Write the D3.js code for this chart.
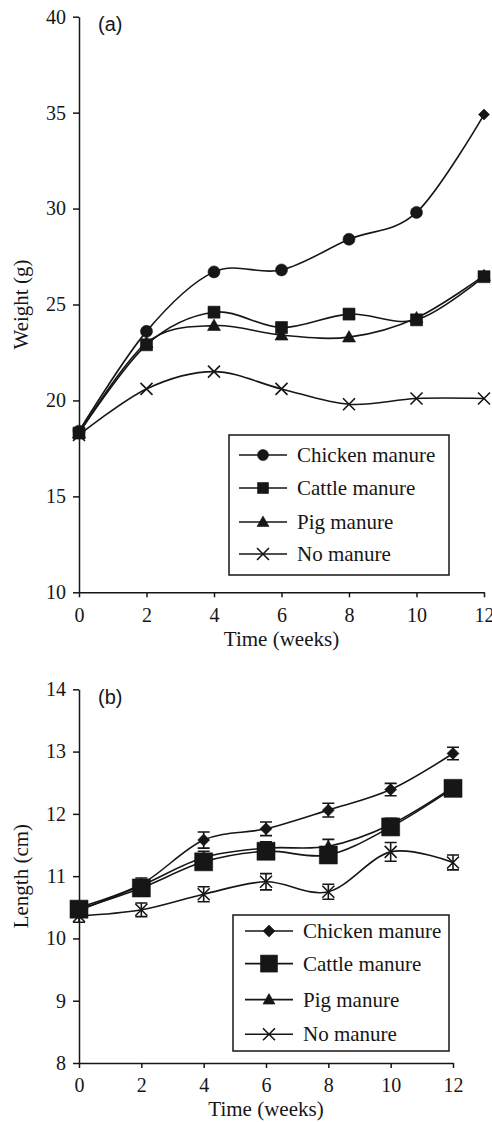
<!DOCTYPE html>
<html>
<head>
<meta charset="utf-8">
<script src="https://cdn.jsdelivr.net/npm/d3@7"></script>
<style>
	html, body { margin: 0; padding: 0; background: #fff; }
	svg { display: block; }
</style>
</head>
<body>
<svg id="chart" width="492" height="1122"></svg>
<script>
'use strict';

var weeks = [0, 2, 4, 6, 8, 10, 12];
var seriesNames = ['Chicken manure', 'Cattle manure', 'Pig manure', 'No manure'];

// (a) weight, g
var weightTicks = [10, 15, 20, 25, 30, 35, 40];
var weightChicken = [18.4, 23.6, 26.7, 26.8, 28.4, 29.8, 34.9];
var weightCattle = [18.3, 22.9, 24.6, 23.8, 24.5, 24.2, 26.45];
var weightPig = [18.3, 23.0, 23.9, 23.4, 23.3, 24.3, 26.5];
var weightNone = [18.2, 20.6, 21.5, 20.6, 19.8, 20.1, 20.1];

// (b) length, cm
var lengthTicks = [8, 9, 10, 11, 12, 13, 14];
var lengthChicken = [10.5, 10.87, 11.58, 11.76, 12.06, 12.39, 12.97];
var lengthCattle = [10.47, 10.81, 11.23, 11.4, 11.34, 11.79, 12.41];
var lengthPig = [10.45, 10.85, 11.3, 11.45, 11.48, 11.83, 12.43];
var lengthNone = [10.36, 10.46, 10.71, 10.91, 10.75, 11.39, 11.22];
var lengthChickenErr = [0.08, 0.1, 0.13, 0.11, 0.11, 0.1, 0.1];
var lengthCattleErr = [0.08, 0.08, 0.1, 0.1, 0.1, 0.1, 0.1];
var lengthPigErr = [0.08, 0.08, 0.1, 0.1, 0.11, 0.1, 0.1];
var lengthNoneErr = [0.1, 0.11, 0.12, 0.13, 0.12, 0.15, 0.12];

(function() {

	var ink = '#161616';
	var serif = '"Liberation Serif", "Times New Roman", serif';
	var svg = d3.select('#chart');

	var markerPath = function(shape, s) {
		var h = s / 2;
		switch (shape) {
			case 'circle':
				return 'M' + (-h) + ',0A' + h + ',' + h + ' 0 1,0 ' + h + ',0A' + h + ',' + h + ' 0 1,0 ' + (-h) + ',0Z';
			case 'square':
				return 'M' + (-h) + ',' + (-h) + 'H' + h + 'V' + h + 'H' + (-h) + 'Z';
			case 'triangle':
				return 'M0,' + (-h) + 'L' + h + ',' + (h * 0.75) + 'L' + (-h) + ',' + (h * 0.75) + 'Z';
			case 'diamond':
				return 'M0,' + (-h) + 'L' + h + ',0L0,' + h + 'L' + (-h) + ',0Z';
			case 'cross':
				return 'M' + (-h) + ',' + (-h) + 'L' + h + ',' + h + 'M' + (-h) + ',' + h + 'L' + h + ',' + (-h);
		}
		return '';
	};

	var drawMarker = function(g, shape, size, x, y) {
		g.append('path')
			.attr('transform', 'translate(' + x + ',' + y + ')')
			.attr('d', markerPath(shape, size))
			.attr('fill', shape === 'cross' ? 'none' : ink)
			.attr('stroke', ink)
			.attr('stroke-width', shape === 'cross' ? 1.6 : 0.6);
	};

	var drawPanel = function(p) {
		var g = svg.append('g');
		var x = d3.scaleLinear().domain([0, 12]).range([p.left, p.right]);
		var y = d3.scaleLinear().domain(d3.extent(p.ticks)).range([p.bottom, p.top]);
		var fmt = d3.format('d');

		var yAxis = g.append('g')
			.attr('transform', 'translate(' + p.left + ',0)')
			.call(d3.axisLeft(y).tickValues(p.ticks).tickFormat(fmt)
				.tickSize(6).tickSizeOuter(0).tickPadding(7));
		var xAxis = g.append('g')
			.attr('transform', 'translate(0,' + p.bottom + ')')
			.call(d3.axisBottom(x).tickValues(weeks).tickFormat(fmt)
				.tickSize(5).tickSizeOuter(0).tickPadding(p.xPad));
		[yAxis, xAxis].forEach(function(a) {
			a.attr('font-family', serif).attr('font-size', 20);
			a.selectAll('path, line').attr('stroke', ink).attr('stroke-width', 1.5);
			a.selectAll('text').attr('fill', ink);
		});

		g.append('text')
			.attr('x', 98)
			.attr('y', p.letterY)
			.attr('fill', ink)
			.attr('font-family', '"Liberation Sans", Arial, sans-serif')
			.attr('font-size', 20)
			.text(p.letter);

		g.append('text')
			.attr('x', (p.left + p.right) / 2)
			.attr('y', p.bottom + p.titleGap)
			.attr('text-anchor', 'middle')
			.attr('fill', ink)
			.attr('font-family', serif)
			.attr('font-size', 21)
			.text('Time (weeks)');

		g.append('text')
			.attr('transform', 'translate(28,' + (p.top + p.bottom) / 2 + ') rotate(-90)')
			.attr('text-anchor', 'middle')
			.attr('fill', ink)
			.attr('font-family', serif)
			.attr('font-size', 21)
			.text(p.yTitle);

		var line = d3.line()
			.x(function(d, i) { return x(weeks[i]); })
			.y(function(d) { return y(d); })
			.curve(d3.curveCatmullRom.alpha(0));

		p.values.forEach(function(vals) {
			g.append('path')
				.attr('d', line(vals))
				.attr('fill', 'none')
				.attr('stroke', ink)
				.attr('stroke-width', 1.6);
		});

		if (p.errors) {
			p.errors.forEach(function(errs, k) {
				var vals = p.values[k];
				errs.forEach(function(e, i) {
					var cx = x(weeks[i]);
					var y1 = y(vals[i] + e);
					var y2 = y(vals[i] - e);
					g.append('path')
						.attr('d', 'M' + cx + ',' + y1 + 'V' + y2 +
							'M' + (cx - 6) + ',' + y1 + 'H' + (cx + 6) +
							'M' + (cx - 6) + ',' + y2 + 'H' + (cx + 6))
						.attr('fill', 'none')
						.attr('stroke', ink)
						.attr('stroke-width', 1.6);
				});
			});
		}

		// pig and no manure first, cattle squares end on top
		[2, 3, 0, 1].forEach(function(k) {
			p.values[k].forEach(function(v, i) {
				var shape = p.shapes[k];
				if (p.lastShape && k === 0 && i === weeks.length - 1) {
					shape = p.lastShape;
				}
				drawMarker(g, shape, p.sizes[shape], x(weeks[i]), y(v));
			});
		});

		var lg = g.append('g').attr('transform', 'translate(' + p.legend.x + ',' + p.legend.y + ')');
		lg.append('rect')
			.attr('width', p.legend.w)
			.attr('height', p.legend.h)
			.attr('fill', '#fff')
			.attr('stroke', ink)
			.attr('stroke-width', 1.5);
		seriesNames.forEach(function(name, k) {
			var ry = p.legend.rows[k];
			lg.append('line')
				.attr('x1', p.legend.lineX)
				.attr('x2', p.legend.lineX + 48)
				.attr('y1', ry)
				.attr('y2', ry)
				.attr('stroke', ink)
				.attr('stroke-width', 1.6);
			drawMarker(lg, p.shapes[k], p.legendSizes[p.shapes[k]], p.legend.lineX + 24, ry);
			lg.append('text')
				.attr('x', p.legend.lineX + 58)
				.attr('y', ry + 7)
				.attr('fill', ink)
				.attr('font-family', serif)
				.attr('font-size', 21)
				.text(name);
		});
	};

	drawPanel({
		top: 16.7, bottom: 592.3, left: 79, right: 484,
		ticks: weightTicks, xPad: 10.5, titleGap: 54,
		letter: '(a)', letterY: 31, yTitle: 'Weight (g)',
		values: [weightChicken, weightCattle, weightPig, weightNone],
		errors: null,
		shapes: ['circle', 'square', 'triangle', 'cross'],
		lastShape: 'diamond',
		sizes: { circle: 12, square: 12, triangle: 13, cross: 12, diamond: 11 },
		legendSizes: { circle: 11, square: 11, triangle: 12, cross: 12 },
		legend: { x: 229, y: 435, w: 220, h: 140, lineX: 10, rows: [20, 53, 87, 119] }
	});

	drawPanel({
		top: 689.3, bottom: 1063, left: 79, right: 453,
		ticks: lengthTicks, xPad: 9.5, titleGap: 53,
		letter: '(b)', letterY: 704, yTitle: 'Length (cm)',
		values: [lengthChicken, lengthCattle, lengthPig, lengthNone],
		errors: [lengthChickenErr, lengthCattleErr, lengthPigErr, lengthNoneErr],
		shapes: ['diamond', 'square', 'triangle', 'cross'],
		lastShape: null,
		sizes: { diamond: 12, square: 18, triangle: 12, cross: 12 },
		legendSizes: { diamond: 12, square: 17, triangle: 12, cross: 12 },
		legend: { x: 233, y: 915, w: 216, h: 136, lineX: 12, rows: [16, 48.6, 84.6, 119.3] }
	});

})();
</script>
</body>
</html>
